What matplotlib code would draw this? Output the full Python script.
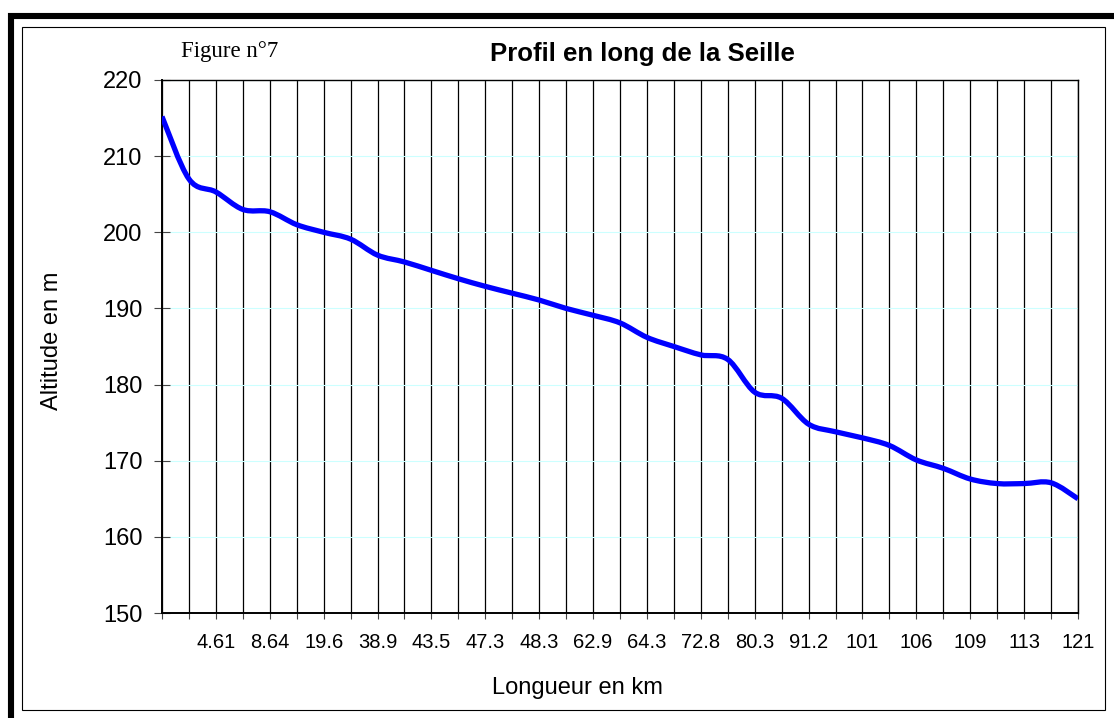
import matplotlib.pyplot as plt
from matplotlib.patches import Rectangle, PathPatch
from matplotlib.path import Path

# Profil en long de la Seille - altitude (m) par point de mesure
altitude = [215.2, 207.0, 205.3, 203.0, 202.7, 201.0, 200.0, 199.1, 197.0, 196.1,
            195.0, 193.9, 192.9, 192.0, 191.1, 190.0, 189.1, 188.1, 186.2, 185.0,
            183.9, 183.3, 179.0, 178.2, 174.8, 173.8, 173.0, 172.0, 170.1, 169.0,
            167.6, 167.0, 167.0, 167.1, 165.0]

# libellés visibles (un point sur deux)
km_labels = ['4.61', '8.64', '19.6', '38.9', '43.5', '47.3', '48.3', '62.9', '64.3',
             '72.8', '80.3', '91.2', '101', '106', '109', '113', '121']
y_ticks = [150, 160, 170, 180, 190, 200, 210, 220]

plt.rcParams['font.family'] = ['Liberation Sans', 'DejaVu Sans']

W, H = 1114, 718
fig = plt.figure(figsize=(W / 100, H / 100), dpi=100)

# cadres autour du graphique
fig.patches.append(Rectangle((10.5 / W, 1 - 1000 / H), 1200 / W, (1000 - 15.5) / H,
                             transform=fig.transFigure, fill=False,
                             edgecolor='black', linewidth=4.4))
fig.patches.append(Rectangle((21.5 / W, 1 - 710 / H), (1105 - 21.5) / W, (710 - 27) / H,
                             transform=fig.transFigure, fill=False,
                             edgecolor='black', linewidth=0.8))

ax = fig.add_axes([162 / W, 1 - 613 / H, (1078 - 162) / W, (613 - 80) / H])

x = list(range(len(altitude)))

# courbe lissée (style "ligne lissée" d'Excel) : segments de Bézier passant par les points
n = len(altitude)
pts = list(zip(x, altitude))
verts = [pts[0]]
codes = [Path.MOVETO]
for i in range(n - 1):
    p0 = pts[max(i - 1, 0)]
    p1 = pts[i]
    p2 = pts[i + 1]
    p3 = pts[min(i + 2, n - 1)]
    c1 = (p1[0] + (p2[0] - p0[0]) / 6, p1[1] + (p2[1] - p0[1]) / 6)
    c2 = (p2[0] - (p3[0] - p1[0]) / 6, p2[1] - (p3[1] - p1[1]) / 6)
    verts += [c1, c2, p2]
    codes += [Path.CURVE4] * 3
ax.add_patch(PathPatch(Path(verts, codes), facecolor='none', edgecolor='#0000ff',
                       linewidth=3.8, joinstyle='round', capstyle='butt', zorder=3))

ax.set_xlim(0, n - 1)
ax.set_ylim(150, 220)

# catégories : trait à chaque point, libellé un sur deux
labels = [''] * n
for k, lab in enumerate(km_labels):
    labels[2 * (k + 1)] = lab
ax.set_xticks(x)
ax.set_xticklabels(labels, fontsize=14.5)
ax.set_yticks(y_ticks)
ax.set_yticklabels([str(v) for v in y_ticks], fontsize=17)

ax.tick_params(axis='x', direction='out', length=4.5, width=0.8, color='#444444', pad=10)
ax.tick_params(axis='y', direction='inout', length=12, width=0.8, color='#444444', pad=8)

ax.grid(axis='x', color='black', linewidth=0.9)
ax.grid(axis='y', color='#ccffff', linewidth=0.8)
ax.set_axisbelow(True)

for side in ['left', 'bottom']:
    ax.spines[side].set_linewidth(1.4)
for side in ['top', 'right']:
    ax.spines[side].set_linewidth(1.0)

fig.text(642 / W, 1 - 61.5 / H, 'Profil en long de la Seille', fontsize=18.5,
         fontweight='bold', ha='center', va='baseline')
fig.text(181 / W, 1 - 56.5 / H, 'Figure n°7', fontsize=16.5,
         family=['Liberation Serif', 'DejaVu Serif'], ha='left', va='baseline')
fig.text(577 / W, 1 - 694 / H, 'Longueur en km', fontsize=17, ha='center', va='baseline')
fig.text(52 / W, 1 - 341 / H, 'Altitude en m', fontsize=17, rotation=90,
         ha='center', va='center')

fig.savefig('out.png', dpi=100)
